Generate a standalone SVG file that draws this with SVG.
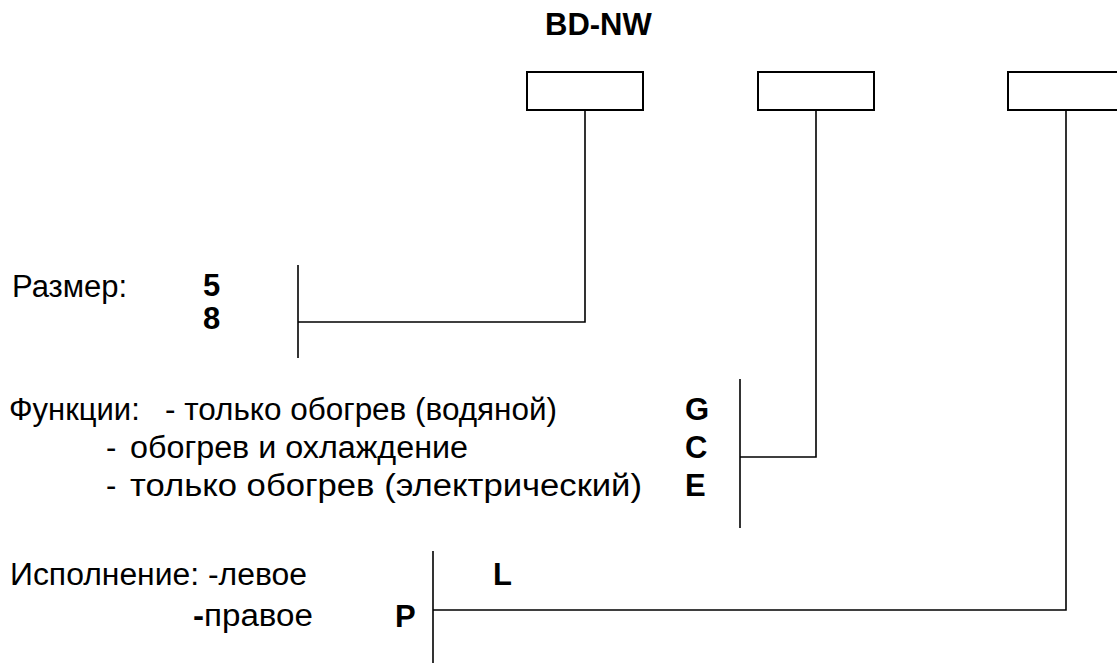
<svg xmlns="http://www.w3.org/2000/svg" width="1117" height="663" viewBox="0 0 1117 663">
<style>
.t{font-family:"Liberation Sans",Arial,sans-serif;font-size:31px;fill:#000}
.b{font-family:"Liberation Sans",Arial,sans-serif;font-size:31px;font-weight:bold;fill:#000}
.box{fill:#fff;stroke:#000;stroke-width:2}
.ln{fill:none;stroke:#000;stroke-width:1.6}
</style>
<rect width="1117" height="663" fill="#fff"/>
<text class="b" x="545" y="35">BD-NW</text>
<g id="box1"><rect class="box" x="527" y="72" width="116" height="38"/></g>
<g id="box2"><rect class="box" x="758" y="72" width="116" height="38"/></g>
<g id="box3"><rect class="box" x="1008" y="72" width="116" height="38"/></g>
<g id="connectors">
<path class="ln" d="M585,110 V322 H298"/>
<path class="ln" d="M298,265 V358"/>
<path class="ln" d="M816,110 V457 H740"/>
<path class="ln" d="M740,379 V528"/>
<path class="ln" d="M1066,110 V610 H433"/>
<path class="ln" d="M433,551 V663"/>
</g>
<g id="size">
<text class="t" x="12" y="297">Размер:</text>
<text class="b" x="203" y="296">5</text>
<text class="b" x="203" y="329">8</text>
</g>
<g id="functions">
<text class="t" x="9" y="420">Функции:</text>
<text class="t" x="165" y="420" textLength="392" lengthAdjust="spacingAndGlyphs">- только обогрев (водяной)</text>
<text class="t" x="106" y="458">-</text>
<text class="t" x="130" y="458" textLength="338" lengthAdjust="spacingAndGlyphs">обогрев и охлаждение</text>
<text class="t" x="106" y="496">-</text>
<text class="t" x="130" y="496" textLength="512" lengthAdjust="spacingAndGlyphs">только обогрев (электрический)</text>
<text class="b" x="685" y="420">G</text>
<text class="b" x="685" y="458">C</text>
<text class="b" x="685" y="496">E</text>
</g>
<g id="execution">
<text class="t" x="10" y="585" textLength="297" lengthAdjust="spacingAndGlyphs">Исполнение: -левое</text>
<text class="t" x="193" y="626" textLength="120" lengthAdjust="spacingAndGlyphs"><tspan font-weight="bold">-</tspan>правое</text>
<text class="b" x="493" y="585">L</text>
<text class="b" x="395" y="627">P</text>
</g>
</svg>
